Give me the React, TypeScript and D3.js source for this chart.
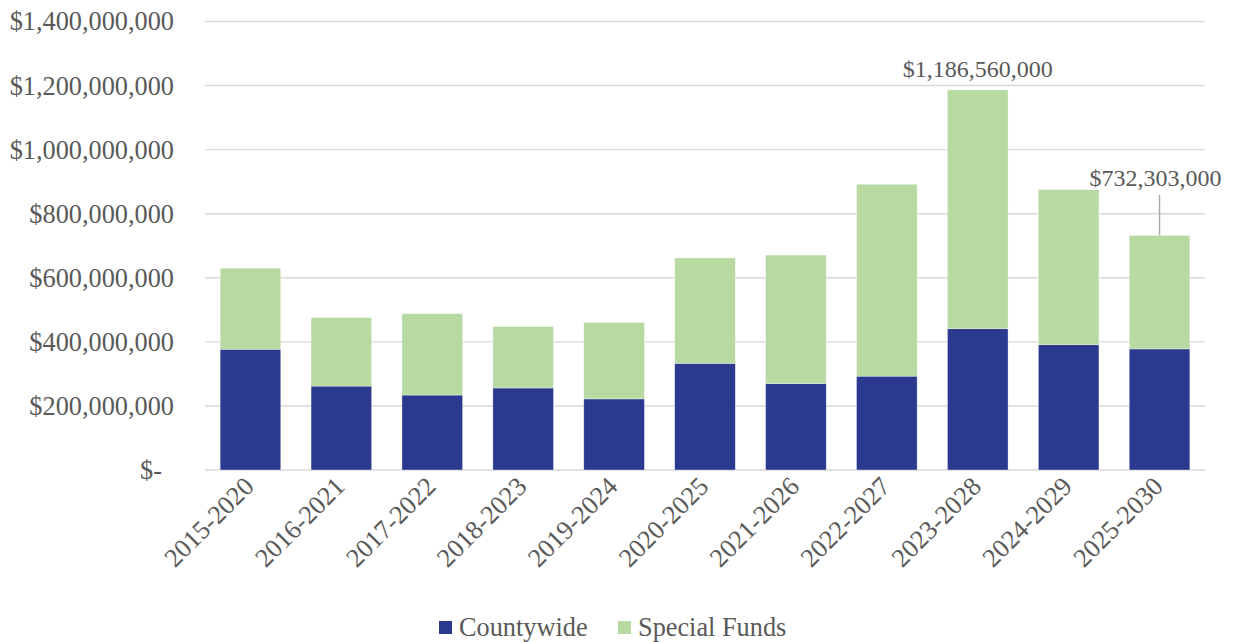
import React from "react";
import * as d3 from "d3";

const categories = ["2015-2020","2016-2021","2017-2022","2018-2023","2019-2024","2020-2025","2021-2026","2022-2027","2023-2028","2024-2029","2025-2030"];
const countywide = [377e6, 262e6, 234e6, 256e6, 222e6, 333e6, 270e6, 293e6, 441e6, 391e6, 378e6];
const specialFunds = [253e6, 214e6, 254e6, 192e6, 239e6, 329e6, 401e6, 599e6, 745.56e6, 484e6, 354.303e6];
const yTicks = [0, 200e6, 400e6, 600e6, 800e6, 1000e6, 1200e6, 1400e6];
const seriesNames = ["Countywide", "Special Funds"];
const colors = ["#2B3A8F", "#B8D9A2"];
const annotated = [8, 10];

const W = 1234, H = 642;
const FONT = "Liberation Serif, Times New Roman, serif";
const TXT = "#595959";
const ts = { fontFamily: FONT };

export default function App() {
  const x = d3.scaleBand<string>().domain(categories).range([205, 1205]).paddingInner(0.333).paddingOuter(0.1665);
  const y = d3.scaleLinear().domain([0, 1.4e9]).range([470, 21.5]);
  const fmt = d3.format("$,");
  const rows = categories.map((c, i) => ({ cat: c, countywide: countywide[i], special: specialFunds[i] }));
  const stack = d3.stack<any>().keys(["countywide", "special"])(rows);

  const i1 = annotated[0];
  const t1 = countywide[i1] + specialFunds[i1];
  const cx1 = (x(categories[i1]) as number) + x.bandwidth() / 2;
  const i2 = annotated[1];
  const t2 = countywide[i2] + specialFunds[i2];
  const cx2 = (x(categories[i2]) as number) + x.bandwidth() / 2;

  return (
    <svg width={W} height={H} style={{ position: "absolute", left: 0, top: 0, background: "#fff", fontFamily: FONT }}>
      {yTicks.map((t) => (
        <g key={t}>
          <line x1={205} x2={1205} y1={y(t)} y2={y(t)} stroke="#d9d9d9" strokeWidth={1.4} />
          <text style={ts} x={t === 0 ? 162 : 174} y={y(t)} dy="0.34em" textAnchor="end" fontSize={26.3} fill={TXT}>
            {t === 0 ? "$-" : fmt(t)}
          </text>
        </g>
      ))}
      {stack.map((s, si) => (
        <g key={si} fill={colors[si]}>
          {s.map((d, i) => (
            <rect key={i} x={x(categories[i])} width={x.bandwidth()} y={y(d[1])} height={y(d[0]) - y(d[1])} stroke="#ffffff" strokeWidth={0.6} strokeOpacity={0.6} />
          ))}
        </g>
      ))}
      {categories.map((c) => {
        const cx = (x(c) as number) + x.bandwidth() / 2;
        return (
          <text key={c} style={ts} transform={`translate(${cx + 5},${488}) rotate(-45)`} textAnchor="end" fontSize={26.3} fill={TXT}>
            {c}
          </text>
        );
      })}
      <text style={ts} x={cx1} y={77} textAnchor="middle" fontSize={24} fill={TXT}>{fmt(Math.round(t1 / 10000) * 10000)}</text>
      <line x1={cx2} x2={cx2} y1={195} y2={y(t2)} stroke="#a6a6a6" strokeWidth={1.4} />
      <text style={ts} x={cx2 - 4} y={186} textAnchor="middle" fontSize={24} fill={TXT}>{fmt(Math.round(t2 / 1000) * 1000)}</text>
      <g>
        <rect x={439} y={621} width={13} height={13} fill={colors[0]} />
        <text style={ts} x={459} y={636} fontSize={26.3} fill={TXT}>{seriesNames[0]}</text>
        <rect x={618} y={621} width={13} height={13} fill={colors[1]} />
        <text style={ts} x={638} y={636} fontSize={26.3} fill={TXT}>{seriesNames[1]}</text>
      </g>
    </svg>
  );
}
